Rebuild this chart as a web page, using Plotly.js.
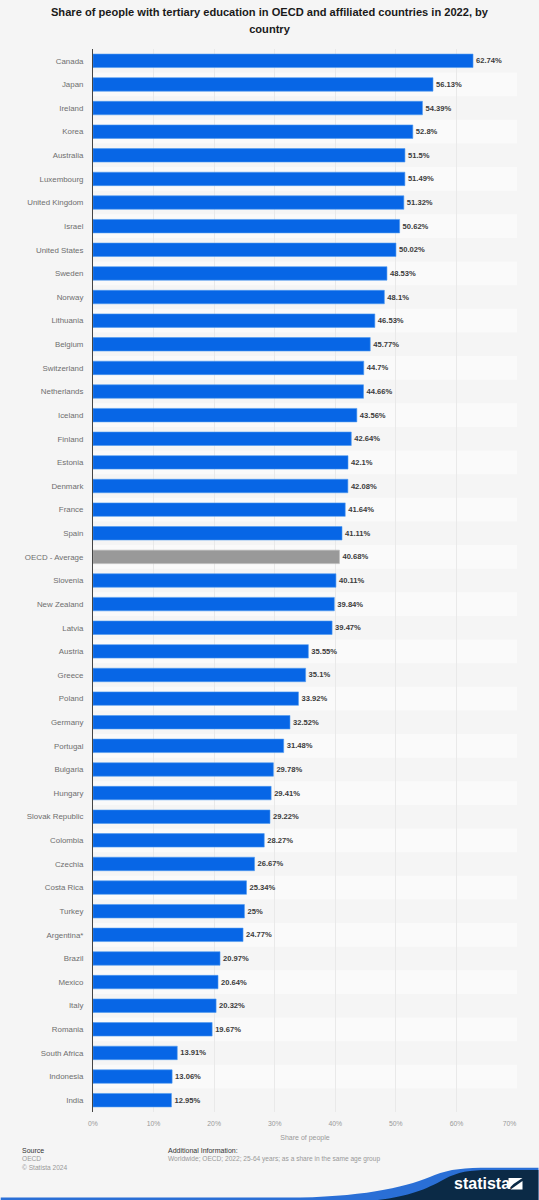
<!DOCTYPE html>
<html><head><meta charset="utf-8">
<script src="https://cdn.plot.ly/plotly-3.0.1.min.js"></script>
<style>html,body{margin:0;padding:0;background:#f5f5f5}</style></head>
<body><div id="chart" style="width:539px;height:1200px"></div>
<script>
const countries=["Canada","Japan","Ireland","Korea","Australia","Luxembourg","United Kingdom","Israel","United States","Sweden","Norway","Lithuania","Belgium","Switzerland","Netherlands","Iceland","Finland","Estonia","Denmark","France","Spain","OECD - Average","Slovenia","New Zealand","Latvia","Austria","Greece","Poland","Germany","Portugal","Bulgaria","Hungary","Slovak Republic","Colombia","Czechia","Costa Rica","Turkey","Argentina*","Brazil","Mexico","Italy","Romania","South Africa","Indonesia","India"];
const shares=[62.74,56.13,54.39,52.8,51.5,51.49,51.32,50.62,50.02,48.53,48.1,46.53,45.77,44.7,44.66,43.56,42.64,42.1,42.08,41.64,41.11,40.68,40.11,39.84,39.47,35.55,35.1,33.92,32.52,31.48,29.78,29.41,29.22,28.27,26.67,25.34,25,24.77,20.97,20.64,20.32,19.67,13.91,13.06,12.95];
const xTicks=[0,10,20,30,40,50,60,70];
const W=539,H=1200;
const L=92.5,R=517.5,T=49,B=1112;
const px=x=>((x-L)/(R-L)).toFixed(5), py=y=>(1-(y-T)/(B-T)).toFixed(5);
const font='"Liberation Sans",Arial,sans-serif';
const shapes=[];
countries.forEach((c,i)=>{ if(i%2===1) shapes.push({type:'rect',layer:'below',xref:'paper',yref:'y',x0:0,x1:1,y0:i-0.5,y1:i+0.5,fillcolor:'#fafafa',line:{width:0}}); });
function fpath(str){ return str.replace(/(-?[\d.]+),(-?[\d.]+)/g,(m,a,b)=>px(+a)+','+py(+b)); }
const foot=(d,c)=>shapes.push({type:'path',xref:'paper',yref:'paper',path:fpath(d),fillcolor:c,line:{width:0}});
foot('M0,1197.6 L300,1197.6 C370,1196 410,1186 435,1175 C450,1169 465,1167.7 490,1167.7 L539,1167.7 L539,1200 L0,1200 Z','#2a6fd6');
foot('M378,1200 C410,1196 425,1190 445,1179 C458,1172 470,1170 490,1170 L539,1170 L539,1200 Z','#0b2a46');
foot('M509,1178 L523,1178 L514,1184 L509,1189 Z','#ffffff');
foot('M523,1181 L523,1189.5 L511,1189.5 Z','#ffffff');
const ann=(x,y,text,size,color)=>({xref:'paper',yref:'paper',x:+px(x),y:+py(y),text,showarrow:false,xanchor:'left',yanchor:'middle',font:{family:font,size,color},align:'left',borderpad:0,borderwidth:0});
const annotations=[
 ann(21.5,1150.3,'Source',7,'#333'),
 ann(21.5,1158.7,'OECD',6.6,'#999'),
 ann(21.5,1167.7,'© Statista 2024',6.6,'#999'),
 ann(167.7,1150.3,'Additional Information:',7,'#333'),
 ann(167.7,1158.7,'Worldwide; OECD; 2022; 25-64 years; as a share in the same age group',6.6,'#999'),
 ann(454,1184,'<b>statista</b>',16,'#ffffff')
];
Plotly.newPlot('chart',[{
 type:'bar',orientation:'h',y:countries,x:shares,
 marker:{color:countries.map(c=>c==='OECD - Average'?'#999999':'#0766e6'),line:{color:countries.map(c=>c==='OECD - Average'?'#b5b5b5':'#4f9bf0'),width:0.6}},
 text:shares.map(v=>'<b>'+v+'%</b>'),textposition:'outside',cliponaxis:false,
 textfont:{family:font,size:7.6,color:'#3c3c3c'},hoverinfo:'skip'
}],{
 width:W,height:H,paper_bgcolor:'#f5f5f5',plot_bgcolor:'#f5f5f5',showlegend:false,bargap:0.43,
 margin:{l:L,r:W-R,t:T,b:H-B,pad:0},
 title:{text:'<span style="font-size:11.1px"><b>Share of people with tertiary education in OECD and affiliated countries in 2022, by<br>country</b></span>',font:{family:font,size:13,color:'#1a1a1a'},x:0.5,xanchor:'center',y:1-16/H,yanchor:'top'},
 xaxis:{range:[0,70],tickvals:xTicks,ticktext:xTicks.map(v=>v===70?v+'%\u00a0\u00a0\u00a0\u00a0\u00a0\u00a0\u00a0\u00a0':v+'%'),showgrid:true,gridcolor:'#e9e9e9',gridwidth:1,zeroline:false,showline:false,ticks:'outside',tickcolor:'rgba(0,0,0,0)',ticklen:5,tickfont:{family:font,size:6.8,color:'#999'},title:{text:'Share of people',font:{family:font,size:7,color:'#999'},standoff:8},automargin:false},
 yaxis:{type:'category',autorange:'reversed',showgrid:false,zeroline:false,showline:true,linecolor:'#444',linewidth:1,ticks:'',ticklen:0,tickfont:{family:font,size:7.9,color:'#6e6e6e'},automargin:false,ticklabelstandoff:7},
 shapes,annotations
},{displayModeBar:false,staticPlot:true});
</script></body></html>
